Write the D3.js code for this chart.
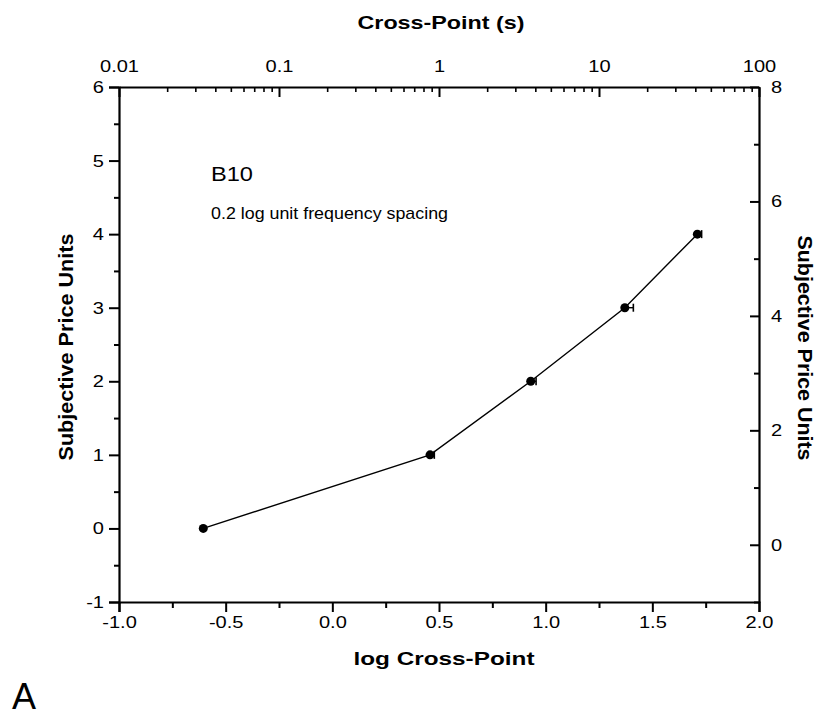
<!DOCTYPE html>
<html><head><meta charset="utf-8">
<script src="https://cdn.jsdelivr.net/npm/d3@7"></script>
<style>body{margin:0;background:#fff}svg{display:block;font-family:"Liberation Sans",Arial,sans-serif}</style>
</head><body><svg id="c" width="821" height="723"></svg>
<script>
const logX = [-0.605, 0.458, 0.930, 1.371, 1.711];
const priceUnits = [0, 1, 2, 3, 4];
const errPlus = [0.0, 0.02, 0.025, 0.04, 0.02];
const errMinus = [0.0, 0.0, 0.0, 0.0, 0.0];
const bottomTicks = [-1.0, -0.5, 0.0, 0.5, 1.0, 1.5, 2.0];
const leftTicks = [-1, 0, 1, 2, 3, 4, 5, 6];
const rightTicks = [0, 2, 4, 6, 8];
const topTicks = [0.01, 0.1, 1, 10, 100];

const svg = d3.select("#c");
const L = 119, R = 759, T = 87, B = 602;
const x = d3.scaleLinear().domain([-1, 2]).range([L, R]);
const y = d3.scaleLinear().domain([-1, 6]).range([B, T]);
const y2 = d3.scaleLinear().domain([-1, 8]).range([B, T]);
const xt = d3.scaleLog().domain([0.01, 100]).range([L, R]);
const SX = 1.18, FS = 17;

// horizontally stretch a text around its anchor point
function stretch(sel, sx) {
  sel.each(function () {
    const t = d3.select(this);
    const tx = +t.attr("x") || 0, ty = +t.attr("y") || 0;
    t.attr("x", 0).attr("y", 0).attr("transform", `translate(${tx},${ty}) scale(${sx},1)`);
  });
}
function style(g) {
  g.select(".domain").attr("stroke", "#000").attr("stroke-width", 2.2);
  g.selectAll(".tick line").attr("stroke", "#000").attr("stroke-width", 2);
  g.selectAll(".tick text").attr("font-size", FS).attr("fill", "#000")
    .attr("font-family", '"Liberation Sans",Arial,sans-serif');
  stretch(g.selectAll(".tick text"), SX);
}
function minor(g) {
  g.select(".domain").remove();
  g.selectAll("line").attr("stroke", "#000").attr("stroke-width", 2);
}

// bottom axis
const gb = svg.append("g").attr("transform", `translate(0,${B})`)
  .call(d3.axisBottom(x).tickValues(bottomTicks).tickFormat(d => d3.format(".1f")(d).replace("−", "-"))
    .tickSizeOuter(0).tickSize(10).tickPadding(4));
style(gb);
svg.append("g").attr("transform", `translate(0,${B})`)
  .call(d3.axisBottom(x).tickValues(d3.range(-0.75, 2, 0.5)).tickFormat("").tickSize(6).tickSizeOuter(0))
  .call(minor);

// left axis
const gl = svg.append("g").attr("transform", `translate(${L},0)`)
  .call(d3.axisLeft(y).tickValues(leftTicks).tickFormat(d => String(d)).tickSizeOuter(0).tickSize(10).tickPadding(5));
style(gl);
svg.append("g").attr("transform", `translate(${L},0)`)
  .call(d3.axisLeft(y).tickValues(d3.range(-0.5, 6, 1)).tickFormat("").tickSize(5).tickSizeOuter(0))
  .call(minor);

// right axis (ticks inward)
const gr = svg.append("g").attr("transform", `translate(${R},0)`)
  .call(d3.axisRight(y2).tickValues(rightTicks).tickFormat(d => String(d)).tickSizeOuter(0).tickSizeInner(-9).tickPadding(12));
style(gr);
svg.append("g").attr("transform", `translate(${R},0)`)
  .call(d3.axisRight(y2).tickValues([-1, 1, 3, 5, 7]).tickFormat("").tickSizeInner(-5).tickSizeOuter(0))
  .call(minor);

// top axis (log, ticks inward)
const gt = svg.append("g").attr("transform", `translate(0,${T})`)
  .call(d3.axisTop(xt).tickValues(topTicks).tickFormat(d => String(d)).tickSizeOuter(0).tickSizeInner(-10).tickPadding(15));
style(gt);
const minorTop = [];
topTicks.slice(0, -1).forEach(d => { for (let k = 2; k <= 9; k++) minorTop.push(d * k); });
svg.append("g").attr("transform", `translate(0,${T})`)
  .call(d3.axisTop(xt).tickValues(minorTop).tickFormat("").tickSizeInner(-5).tickSizeOuter(0))
  .call(g => { g.select(".domain").remove(); g.selectAll("line").attr("stroke", "#000").attr("stroke-width", 1.6); });

// data line
const pts = logX.map((v, i) => ({x: v, y: priceUnits[i], ep: errPlus[i], em: errMinus[i]}));
svg.append("path").datum(pts)
  .attr("fill", "none").attr("stroke", "#000").attr("stroke-width", 1.4)
  .attr("d", d3.line().x(d => x(d.x)).y(d => y(d.y)));

// error bars
const eb = svg.append("g").selectAll("g").data(pts.filter(d => d.ep > 0)).join("g");
eb.append("line").attr("x1", d => x(d.x - d.em)).attr("x2", d => x(d.x + d.ep))
  .attr("y1", d => y(d.y)).attr("y2", d => y(d.y)).attr("stroke", "#000").attr("stroke-width", 1.4);
eb.append("line").attr("x1", d => x(d.x + d.ep)).attr("x2", d => x(d.x + d.ep))
  .attr("y1", d => y(d.y) - 4).attr("y2", d => y(d.y) + 4).attr("stroke", "#000").attr("stroke-width", 1.6);

svg.append("g").selectAll("circle").data(pts).join("circle")
  .attr("cx", d => x(d.x)).attr("cy", d => y(d.y)).attr("r", 4.5).attr("fill", "#000");

// titles
svg.append("text").attr("x", 441).attr("y", 29).attr("text-anchor", "middle")
  .attr("font-size", 19).attr("font-weight", "bold")
  .attr("textLength", 167).attr("lengthAdjust", "spacingAndGlyphs").text("Cross-Point (s)");
svg.append("text").attr("x", 444).attr("y", 665).attr("text-anchor", "middle")
  .attr("font-size", 19).attr("font-weight", "bold")
  .attr("textLength", 181).attr("lengthAdjust", "spacingAndGlyphs").text("log Cross-Point");
svg.append("text").attr("transform", `translate(73,347) rotate(-90)`).attr("text-anchor", "middle")
  .attr("font-size", 20).attr("font-weight", "bold")
  .attr("textLength", 227).attr("lengthAdjust", "spacingAndGlyphs").text("Subjective Price Units");
svg.append("text").attr("transform", `translate(798,348) rotate(90)`).attr("text-anchor", "middle")
  .attr("font-size", 20).attr("font-weight", "bold")
  .attr("textLength", 225).attr("lengthAdjust", "spacingAndGlyphs").text("Subjective Price Units");
svg.append("text").attr("x", 211).attr("y", 181).attr("font-size", 21)
  .attr("textLength", 42).attr("lengthAdjust", "spacingAndGlyphs").text("B10");
svg.append("text").attr("x", 211).attr("y", 219).attr("font-size", 17)
  .attr("textLength", 237).attr("lengthAdjust", "spacingAndGlyphs").text("0.2 log unit frequency spacing");
svg.append("text").attr("x", 12).attr("y", 709).attr("font-size", 36).text("A");
</script></body></html>
